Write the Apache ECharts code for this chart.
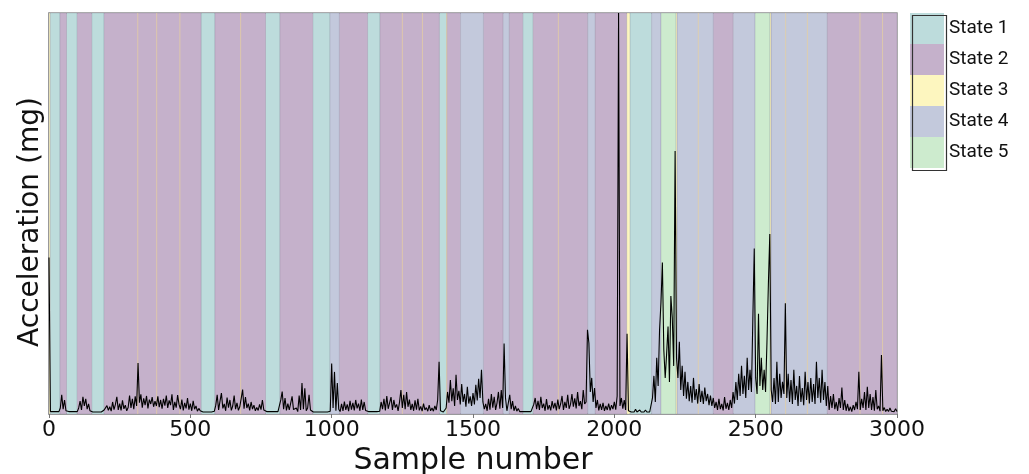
<!DOCTYPE html>
<html><head><meta charset="utf-8">
<script src="https://cdn.jsdelivr.net/npm/echarts@6/dist/echarts.min.js"></script>
<style>html,body{margin:0;padding:0;background:#fff}#c{width:1029px;height:474px}</style>
</head><body><div id="c"></div>
<script>
// ---- data ----
const stateNames = ['State 1', 'State 2', 'State 3', 'State 4', 'State 5'];
const stateColors = ['#bddcdc', '#c5b1cb', '#fdf6bf', '#c3c9dc', '#cdebce'];

// state segments (sample index start / end / state number)
const segStart = [0, 4, 39, 62, 100, 151, 195, 538, 587, 766, 817, 933, 994, 1027, 1127, 1171, 1381, 1407, 1456, 1537, 1607, 1628, 1676, 1713, 1906, 1932, 2044, 2055, 2132, 2165, 2219, 2221, 2350, 2421, 2498, 2551, 2554, 2753];
const segEnd   = [4, 39, 62, 100, 151, 195, 538, 587, 766, 817, 933, 994, 1027, 1127, 1171, 1381, 1407, 1456, 1537, 1607, 1628, 1676, 1713, 1906, 1932, 2044, 2055, 2132, 2165, 2219, 2221, 2350, 2421, 2498, 2551, 2554, 2753, 3000];
const segState = [3, 1, 2, 1, 2, 1, 2, 1, 2, 1, 2, 1, 4, 2, 1, 2, 1, 2, 4, 2, 4, 2, 1, 2, 4, 2, 3, 1, 4, 5, 3, 4, 2, 4, 5, 3, 4, 2];
// very short State 3 episodes (sample index)
const shortState3 = [314, 381, 463, 678, 1250, 1321, 1407, 1802, 2297, 2606, 2683, 2869, 2949];

const sampleStep = 5;
// acceleration, one row per 100 samples (every 5th sample)
const accel = [
  39, 0.6, 0.5, 0.6, 0.5, 0.6, 0.5, 0.6, 1.5, 4.8, 1.2, 3.5, 0.8, 0.5, 0.6, 0.5, 0.6, 0.5, 0.6, 0.5,
  0.6, 1.5, 3.2, 1.0, 4.3, 2.0, 3.8, 1.2, 2.5, 0.8, 0.6, 0.5, 0.6, 0.5, 0.6, 0.5, 0.6, 0.5, 0.6, 1.0,
  0.8, 2.1, 0.9, 1.8, 0.7, 3.0, 1.1, 2.4, 4.3, 1.0, 2.6, 0.9, 3.4, 1.3, 2.2, 0.8, 1.6, 4.6, 1.5, 3.8,
  1.2, 4.4, 2.0, 12.7, 2.8, 4.9, 1.6, 3.9, 2.2, 4.5, 1.4, 3.6, 2.5, 4.2, 1.8, 3.2, 2.0, 4.4, 1.7, 3.5,
  1.3, 3.8, 2.1, 4.6, 1.5, 3.4, 2.2, 4.9, 1.0, 3.0, 1.6, 4.7, 2.4, 1.2, 3.6, 0.9, 2.8, 1.4, 4.0, 1.1,
  2.6, 0.8, 3.3, 1.2, 2.0, 0.7, 1.4, 0.8, 0.6, 0.5, 0.6, 0.5, 0.6, 0.5, 0.6, 0.5, 0.6, 0.7, 2.2, 4.8,
  1.0, 3.2, 5.2, 1.4, 2.5, 0.8, 4.1, 1.6, 3.5, 0.9, 2.0, 4.6, 1.2, 2.8, 0.9, 1.8, 3.9, 6.1, 1.3, 4.2,
  1.5, 2.6, 0.9, 3.0, 1.2, 2.2, 0.8, 1.6, 0.9, 2.4, 1.1, 3.5, 1.0, 0.8, 0.6, 0.5, 0.6, 0.5, 0.6, 0.5,
  0.6, 0.5, 0.6, 0.7, 3.5, 5.6, 1.2, 4.0, 0.9, 2.6, 1.0, 0.8, 4.4, 1.1, 0.7, 1.5, 0.6, 4.6, 1.0, 7.7,
  1.2, 6.4, 0.8, 1.5, 4.8, 1.0, 0.7, 0.5, 0.6, 0.5, 0.6, 0.5, 0.6, 0.5, 0.6, 0.5, 0.6, 0.5, 0.6, 0.7,
  12.6, 1.5, 10.5, 0.8, 7.7, 1.2, 0.6, 2.5, 0.8, 3.1, 1.0, 2.4, 0.7, 3.3, 1.1, 2.8, 0.9, 3.5, 1.4, 2.6,
  0.8, 3.6, 1.0, 3.0, 0.9, 1.2, 0.6, 0.5, 0.6, 0.5, 0.6, 0.5, 0.6, 0.5, 0.7, 3.0, 1.2, 3.8, 0.9, 4.5,
  1.3, 2.8, 4.2, 1.0, 3.5, 1.6, 2.4, 0.8, 2.9, 6.0, 1.5, 4.8, 1.2, 5.5, 1.8, 3.6, 1.0, 2.5, 0.8, 3.4,
  1.1, 3.8, 0.9, 1.9, 0.7, 2.6, 1.0, 1.6, 0.7, 2.2, 0.8, 1.5, 0.7, 2.0, 1.0, 3.5, 13.0, 0.8, 0.6, 0.5,
  0.6, 1.5, 5.5, 2.8, 8.5, 3.2, 6.4, 2.0, 9.8, 3.5, 5.8, 2.4, 7.5, 3.0, 5.0, 1.8, 6.8, 2.6, 4.4, 2.0,
  5.2, 2.4, 7.3, 3.4, 8.8, 4.0, 11.0, 3.0, 1.2, 2.5, 0.8, 3.8, 1.1, 5.0, 1.6, 4.3, 1.0, 2.8, 5.5, 1.3,
  6.0, 1.5, 17.6, 4.0, 0.8, 1.0, 4.8, 1.2, 3.2, 0.8, 2.0, 0.7, 1.4, 0.6, 1.0, 0.6, 0.5, 0.6, 0.5, 0.6,
  0.5, 0.6, 0.7, 2.4, 4.0, 1.2, 3.3, 1.0, 4.3, 1.5, 2.6, 0.8, 3.7, 1.1, 2.2, 0.9, 3.2, 1.4, 2.8, 0.9,
  3.6, 1.2, 2.5, 4.5, 1.0, 3.0, 1.5, 4.8, 1.3, 2.4, 5.0, 1.8, 3.9, 1.4, 5.5, 2.0, 3.2, 1.2, 6.0, 2.5,
  3.0, 21.0, 17.7, 5.5, 9.0, 3.0, 6.5, 1.5, 3.5, 0.9, 2.5, 1.0, 2.8, 0.8, 2.0, 1.0, 2.6, 0.9, 2.2, 1.2,
  3.0, 1.1, 4.5, 100, 2.0, 4.0, 1.3, 3.5, 1.0, 20.0, 0.8, 0.6, 0.5, 0.6, 0.5, 1.2, 0.5, 0.6, 1.0, 0.5,
  0.6, 0.5, 1.0, 0.5, 0.6, 0.5, 0.8, 4.0, 9.5, 3.0, 14.0, 7.0, 21.0, 27.8, 37.8, 16.0, 9.0, 15.0, 21.8, 8.0,
  29.4, 24.0, 12.0, 65.6, 14.0, 9.0, 18.0, 6.0, 12.0, 4.5, 10.5, 3.8, 8.0, 3.2, 7.0, 2.8, 9.0, 3.5, 6.2, 2.6,
  7.5, 3.0, 5.8, 2.5, 6.6, 3.2, 5.0, 2.2, 4.6, 2.0, 4.0, 1.5, 3.0, 1.0, 3.8, 1.2, 2.5, 0.9, 4.2, 1.3,
  2.8, 1.0, 3.5, 1.5, 5.5, 2.6, 8.0, 3.5, 10.0, 4.5, 12.0, 5.0, 9.5, 4.0, 14.0, 6.0, 11.0, 5.5, 23.7, 41.3,
  9.0, 5.0, 25.0, 7.0, 14.0, 6.0, 11.0, 5.5, 18.0, 32.4, 44.9, 6.0, 3.0, 9.0, 2.5, 13.0, 3.0, 10.0, 4.0, 8.0,
  5.0, 27.6, 4.0, 10.0, 3.0, 8.5, 2.5, 11.0, 3.5, 7.0, 2.0, 9.5, 3.0, 6.5, 2.2, 10.5, 3.5, 8.0, 2.6, 9.0,
  3.0, 7.5, 2.5, 13.0, 4.0, 9.0, 2.8, 11.0, 3.5, 8.0, 2.0, 7.0, 1.0, 4.5, 1.5, 5.0, 1.2, 3.0, 0.8, 4.0,
  1.5, 6.6, 1.0, 3.5, 0.8, 2.5, 0.7, 1.8, 0.6, 2.2, 1.0, 3.0, 1.2, 10.5, 1.0, 3.8, 1.5, 5.5, 1.0, 6.8,
  1.5, 5.0, 1.0, 4.2, 0.8, 6.0, 1.2, 2.0, 0.7, 14.7, 0.8, 1.6, 0.6, 1.2, 0.6, 1.5, 0.7, 1.0, 0.6, 1.3,
  0.6
];
const yMax = 100;

// ---- build ----
const lineData = accel.map((v, i) => [i * sampleStep, v]);

function bandsFor(k) {
  const out = [];
  segState.forEach((s, i) => { if (s === k) out.push([segStart[i], segEnd[i], s, 0]); });
  if (k === 3) shortState3.forEach(c => out.push([c - 0.5, c + 0.5, 3, 1]));
  return out;
}

function renderBand(params, api) {
  const p0 = api.coord([api.value(0), yMax]);
  const p1 = api.coord([api.value(1), 0]);
  const thin = api.value(3) === 1;
  let x = p0[0], w = p1[0] - p0[0];
  if (w < 1) { x = (p0[0] + p1[0]) / 2 - 0.5; w = 1; }
  return {
    type: 'rect',
    shape: { x: x, y: p0[1], width: w, height: p1[1] - p0[1] },
    style: thin
      ? { fill: '#e6cfa0', opacity: 0.75 }
      : { fill: api.visual('color'), stroke: 'rgba(100,90,120,0.22)', lineWidth: 0.8 }
  };
}

const bandSeries = stateNames.map((name, i) => ({
  type: 'custom',
  name: name,
  data: bandsFor(i + 1),
  encode: { x: [0, 1] },
  renderItem: renderBand,
  itemStyle: { color: stateColors[i] },
  z: i === 2 ? 2 : 1,
  silent: true
}));

const chart = echarts.init(document.getElementById('c'), null, { renderer: 'canvas' });
chart.setOption({
  animation: false,
  backgroundColor: '#ffffff',
  textStyle: { fontFamily: 'DejaVu Sans' },
  grid: { left: 49, right: 132, top: 13, bottom: 60, show: true, borderColor: '#999', borderWidth: 1.5, containLabel: false, outerBoundsMode: 'none' },
  legend: {
    data: stateNames,
    orient: 'vertical',
    left: 910, top: 13,
    padding: 0,
    itemGap: 0,
    itemWidth: 34, itemHeight: 31,
    icon: 'rect',
    selectedMode: false,
    textStyle: { fontSize: 19, color: '#111', fontFamily: 'Roboto' }
  },
  graphic: [{
    type: 'rect', left: 910, top: 13, z: 100,
    shape: { width: 34, height: 155 },
    style: { fill: null, stroke: '#333', lineWidth: 1.2 }
  }],
  xAxis: {
    type: 'value', min: 0, max: 3000, interval: 500,
    name: 'Sample number', nameLocation: 'middle', nameGap: 31,
    nameTextStyle: { fontSize: 30, color: '#111', fontFamily: 'DejaVu Sans' },
    axisLine: { show: true, lineStyle: { color: '#999', width: 1.5 } },
    axisTick: { show: true, length: 4, lineStyle: { color: '#777' } },
    axisLabel: { fontSize: 22, color: '#111', margin: 5, fontFamily: 'DejaVu Sans', formatter: v => String(v) },
    splitLine: { show: false }
  },
  yAxis: {
    type: 'value', min: 0, max: yMax,
    name: 'Acceleration (mg)', nameLocation: 'middle', nameGap: 4,
    nameTextStyle: { fontSize: 28, color: '#111', fontFamily: 'DejaVu Sans', padding: [0, 17, 0, 0] },
    axisLine: { show: true, lineStyle: { color: '#999', width: 1.5 } },
    axisTick: { show: false },
    axisLabel: { show: false },
    splitLine: { show: false }
  },
  series: bandSeries.concat([{
    type: 'line',
    name: 'Acceleration',
    data: lineData,
    symbol: 'none',
    lineStyle: { color: '#000', width: 1.1 },
    itemStyle: { color: '#000' },
    z: 5,
    silent: true
  }])
});
</script></body></html>
